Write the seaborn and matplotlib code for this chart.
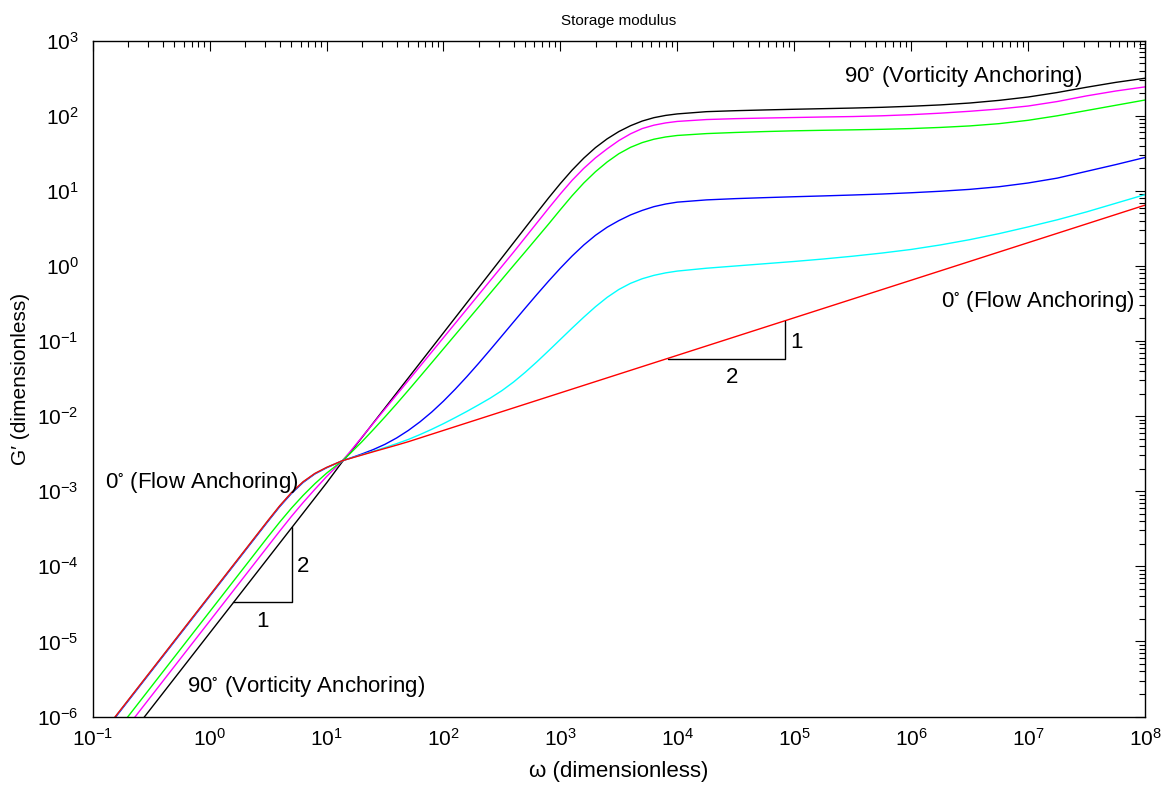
import numpy as np
import pandas as pd
import matplotlib
matplotlib.use("Agg")
import matplotlib.pyplot as plt
import seaborn as sns
from matplotlib.ticker import LogLocator, LogFormatterSciNotation, NullFormatter

# ---- data (log10 values on the log-log axes) ----
log_omega = [-1.0, -0.5, 0.0, 0.5, 0.6, 0.7, 0.8, 0.9, 1.0, 1.136,
             1.2, 1.3, 1.4, 1.5, 1.6, 1.7, 1.8, 1.9, 2.0, 2.1, 2.2, 2.3, 2.4, 2.5,
             2.6, 2.7, 2.8, 2.9, 3.0, 3.1, 3.2, 3.3, 3.4, 3.5, 3.6, 3.7, 3.8, 3.9, 4.0,
             4.25, 4.5, 4.75, 5.0, 5.25, 5.5, 5.75, 6.0, 6.25, 6.5, 6.75, 7.0, 7.25,
             7.5, 7.75, 8.0]

log_g_black = [-6.89, -5.89, -4.89, -3.89, -3.69, -3.49, -3.29, -3.09, -2.89, -2.605,
               -2.49, -2.29, -2.09, -1.89, -1.69, -1.49, -1.29, -1.09, -0.89, -0.69,
               -0.49, -0.29, -0.09, 0.11, 0.31, 0.51, 0.71, 0.908, 1.098, 1.276, 1.436,
               1.576, 1.693, 1.79, 1.868, 1.93, 1.975, 2.005, 2.025,
               2.055, 2.068, 2.078, 2.087, 2.095, 2.103, 2.113, 2.127, 2.145, 2.17,
               2.205, 2.25, 2.31, 2.38, 2.445, 2.50]
log_g_magenta = [-6.73, -5.73, -4.73, -3.73, -3.53, -3.335, -3.15, -2.975, -2.805, -2.593,
                 -2.475, -2.285, -2.095, -1.905, -1.715, -1.525, -1.335, -1.145, -0.955,
                 -0.765, -0.575, -0.385, -0.195, -0.005, 0.185, 0.38, 0.575, 0.77, 0.96,
                 1.14, 1.30, 1.44, 1.56, 1.67, 1.76, 1.83, 1.875, 1.905, 1.925,
                 1.95, 1.962, 1.97, 1.977, 1.984, 1.99, 2.0, 2.015, 2.035, 2.06, 2.09,
                 2.13, 2.19, 2.265, 2.33, 2.385]
log_g_green = [-6.605, -5.605, -4.605, -3.605, -3.41, -3.225, -3.055, -2.9, -2.76, -2.593,
               -2.50, -2.345, -2.18, -2.01, -1.835, -1.655, -1.472, -1.288, -1.103,
               -0.918, -0.733, -0.548, -0.363, -0.178, 0.007, 0.19, 0.375, 0.56, 0.75,
               0.935, 1.105, 1.255, 1.385, 1.495, 1.58, 1.643, 1.688, 1.718, 1.738,
               1.763, 1.778, 1.79, 1.80, 1.807, 1.813, 1.82, 1.83, 1.845, 1.865, 1.895,
               1.94, 2.0, 2.07, 2.14, 2.21]
log_g_blue = [-6.40, -5.40, -4.40, -3.40, -3.205, -3.03, -2.883, -2.77, -2.688, -2.593,
              -2.56, -2.505, -2.445, -2.375, -2.29, -2.19, -2.075, -1.945, -1.80, -1.642,
              -1.474, -1.298, -1.116, -0.931, -0.745, -0.56, -0.378, -0.20, -0.029, 0.132,
              0.279, 0.408, 0.516, 0.604, 0.68, 0.74, 0.79, 0.825, 0.85,
              0.88, 0.897, 0.91, 0.922, 0.933, 0.945, 0.958, 0.975, 0.995, 1.02, 1.055,
              1.105, 1.17, 1.26, 1.35, 1.445]
log_g_cyan = [-6.39, -5.39, -4.39, -3.39, -3.195, -3.02, -2.875, -2.765, -2.685, -2.593,
              -2.562, -2.515, -2.467, -2.418, -2.366, -2.31, -2.245, -2.175, -2.10, -2.02,
              -1.937, -1.85, -1.76, -1.66, -1.545, -1.415, -1.275, -1.128, -0.978, -0.828,
              -0.682, -0.543, -0.418, -0.313, -0.231, -0.17, -0.125, -0.092, -0.068,
              -0.03, 0.0, 0.03, 0.06, 0.093, 0.13, 0.172, 0.22, 0.28, 0.35, 0.43, 0.52,
              0.615, 0.72, 0.835, 0.95]
log_g_red = [-6.388, -5.388, -4.388, -3.388, -3.193, -3.018, -2.873, -2.763, -2.683, -2.593,
             -2.564, -2.519, -2.474, -2.43, -2.386, -2.34, -2.29, -2.24, -2.19, -2.14,
             -2.09, -2.04, -1.99, -1.94, -1.89, -1.84, -1.79, -1.74, -1.69, -1.64, -1.59,
             -1.54, -1.49, -1.44, -1.39, -1.34, -1.29, -1.24, -1.19,
             -1.065, -0.94, -0.815, -0.69, -0.565, -0.44, -0.315, -0.19, -0.065, 0.06,
             0.185, 0.31, 0.435, 0.56, 0.685, 0.81]

curve_names = ["k", "m", "g", "b", "c", "r"]
curve_colors = ["#000000", "#ff00ff", "#00ff00", "#0000ff", "#00ffff", "#ff0000"]

# slope triangles (omega, G')
tri_low_omega = [1.585, 5.07, 5.07]
tri_low_g = [3.36e-5, 3.36e-5, 3.35e-4]
tri_high_omega = [8356.0, 83750.0, 83750.0]
tri_high_g = [0.0578, 0.0578, 0.1854]

x_limits = [1e-1, 1e8]
y_limits = [1e-6, 1e3]

# ---- build table ----
series = [log_g_black, log_g_magenta, log_g_green, log_g_blue, log_g_cyan, log_g_red]
frames = []
for name, vals in zip(curve_names, series):
    frames.append(pd.DataFrame({
        "omega": np.power(10.0, np.array(log_omega)),
        "G": np.power(10.0, np.array(vals)),
        "curve": name,
    }))
df = pd.concat(frames, ignore_index=True)

# ---- style ----
sns.set_theme(style="white")
plt.rcParams["font.family"] = ["Liberation Sans", "DejaVu Sans"]
plt.rcParams["mathtext.fontset"] = "custom"
plt.rcParams["mathtext.rm"] = "Liberation Sans"
plt.rcParams["mathtext.it"] = "Liberation Sans:italic"
plt.rcParams["mathtext.bf"] = "Liberation Sans:bold"
plt.rcParams["mathtext.default"] = "regular"
plt.rcParams["axes.unicode_minus"] = True

fig = plt.figure(figsize=(11.75, 7.85), dpi=100)
ax = fig.add_axes([0.07889, 0.08726, 0.89557, 0.86089])
ax.set_xscale("log")
ax.set_yscale("log")

sns.lineplot(data=df, x="omega", y="G", hue="curve", hue_order=curve_names,
             palette=dict(zip(curve_names, curve_colors)), estimator=None,
             sort=False, legend=False, linewidth=1.0, ax=ax)

ax.plot(tri_low_omega, tri_low_g, color="black", lw=1.0)
ax.plot(tri_high_omega, tri_high_g, color="black", lw=1.0)

ax.set_xlim(*x_limits)
ax.set_ylim(*y_limits)

ax.xaxis.set_major_locator(LogLocator(base=10, subs=(1.0,), numticks=30))
ax.yaxis.set_major_locator(LogLocator(base=10, subs=(1.0,), numticks=30))
ax.xaxis.set_minor_locator(LogLocator(base=10, subs=np.arange(2, 10), numticks=100))
ax.yaxis.set_minor_locator(LogLocator(base=10, subs=np.arange(2, 10), numticks=100))
ax.xaxis.set_major_formatter(LogFormatterSciNotation())
ax.yaxis.set_major_formatter(LogFormatterSciNotation())
ax.xaxis.set_minor_formatter(NullFormatter())
ax.yaxis.set_minor_formatter(NullFormatter())

ax.tick_params(which="both", direction="in", top=True, right=True, color="black",
               width=0.8, labelsize=15, labelcolor="black")
ax.tick_params(which="major", length=7.5)
ax.tick_params(which="minor", length=4.3)
ax.tick_params(axis="y", pad=10)
ax.tick_params(axis="x", pad=8)
for s in ax.spines.values():
    s.set_color("black")
    s.set_linewidth(1.0)

ax.set_title("Storage modulus", fontsize=11, pad=11, color="black")
ax.set_xlabel("ω (dimensionless)", fontsize=16, color="black", labelpad=8)
ax.set_ylabel("G′ (dimensionless)", fontsize=15, color="black", labelpad=5)

txt_kw = dict(fontsize=16, color="black", ha="left", va="baseline")
ax.text(0.127, 1.107e-3, r"0$^{\circ}$ (Flow Anchoring)", **txt_kw)
ax.text(0.637, 2.15e-6, r"90$^{\circ}$ (Vorticity Anchoring)", **txt_kw)
ax.text(2.64e5, 279.0, r"90$^{\circ}$ (Vorticity Anchoring)", **txt_kw)
ax.text(1.81e6, 0.287, r"0$^{\circ}$ (Flow Anchoring)", **txt_kw)

num_kw = dict(fontsize=16, color="black", ha="center", va="center")
ax.text(6.3, 1.0e-4, "2", **num_kw)
ax.text(2.86, 1.82e-5, "1", **num_kw)
ax.text(1.04e5, 0.0944, "1", **num_kw)
ax.text(2.93e4, 0.0324, "2", **num_kw)

fig.savefig("out.png", dpi=100)
